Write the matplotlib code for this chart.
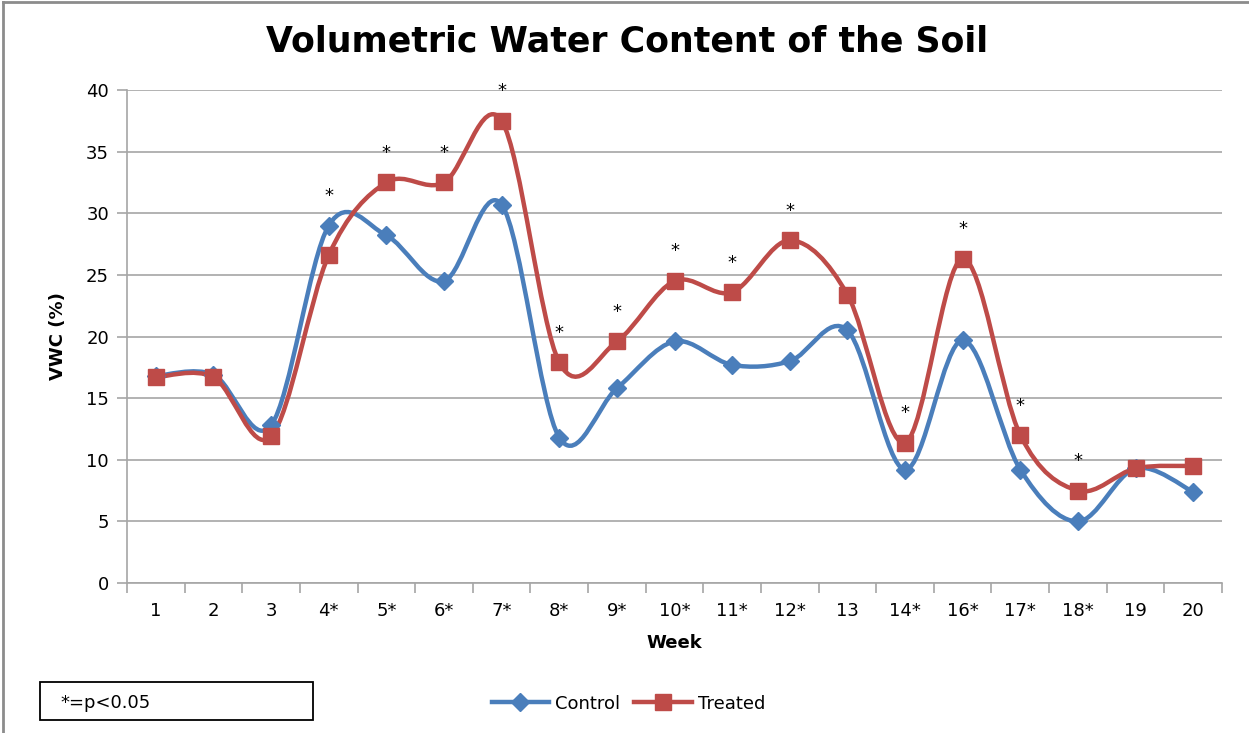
import matplotlib.pyplot as plt
import numpy as np
from matplotlib.lines import Line2D
from matplotlib.path import Path
from matplotlib.patches import PathPatch, Rectangle

weeks = ["1", "2", "3", "4*", "5*", "6*", "7*", "8*", "9*", "10*", "11*", "12*",
         "13", "14*", "16*", "17*", "18*", "19", "20"]
control = [16.8, 16.9, 12.8, 29.0, 28.2, 24.5, 30.7, 11.8, 15.8, 19.6, 17.7, 18.0,
           20.5, 9.2, 19.7, 9.2, 5.0, 9.3, 7.4]
treated = [16.7, 16.7, 11.9, 26.6, 32.5, 32.5, 37.5, 17.9, 19.6, 24.5, 23.6, 27.8,
           23.4, 11.4, 26.3, 12.0, 7.5, 9.3, 9.5]

BLUE = "#4a7ebb"
RED = "#be4b48"
GRID = "#a6a6a6"


def smooth_path(xs, ys):
    # Excel-like smoothed line: Catmull-Rom converted to cubic Bezier segments
    pts = np.column_stack([xs, ys]).astype(float)
    verts = [pts[0]]
    codes = [Path.MOVETO]
    n = len(pts)
    for i in range(n - 1):
        p0 = pts[max(i - 1, 0)]
        p1 = pts[i]
        p2 = pts[i + 1]
        p3 = pts[min(i + 2, n - 1)]
        verts += [p1 + (p2 - p0) / 6, p2 - (p3 - p1) / 6, p2]
        codes += [Path.CURVE4] * 3
    return Path(verts, codes)


fig = plt.figure(figsize=(12.49, 7.33), dpi=100)
ax = fig.add_axes([0.1017, 0.2046, 0.8767, 0.6726])

x = np.arange(len(weeks))
for vals, color, marker, ms in [(control, BLUE, "D", 9), (treated, RED, "s", 12)]:
    ax.add_patch(PathPatch(smooth_path(x, vals), facecolor="none", edgecolor=color,
                           lw=3.2, zorder=3, capstyle="round", joinstyle="round"))
    ax.plot(x, vals, linestyle="none", marker=marker, ms=ms, color=color,
            markeredgecolor=color, zorder=4)

# significance stars above the higher of both series
for i, w in enumerate(weeks):
    if w.endswith("*"):
        ax.text(i, max(control[i], treated[i]) + 2.4, "*", ha="center", va="center",
                fontsize=13, color="black", zorder=5)

ax.set_xlim(-0.5, len(weeks) - 0.5)
ax.set_ylim(0, 40)
ax.set_yticks(range(0, 41, 5))
ax.set_xticks(x)
ax.set_xticklabels(weeks)
ax.set_xticks(np.arange(-0.5, len(weeks), 1), minor=True)
ax.tick_params(axis="x", which="major", length=0, pad=14, labelsize=13)
ax.tick_params(axis="x", which="minor", length=7, color=GRID, width=1.2)
ax.tick_params(axis="y", length=7, color=GRID, width=1.2, labelsize=13, pad=6)
ax.yaxis.grid(True, color=GRID, lw=1.2)
ax.set_axisbelow(True)
for s in ["top", "right"]:
    ax.spines[s].set_visible(False)
for s in ["left", "bottom"]:
    ax.spines[s].set_color(GRID)
    ax.spines[s].set_linewidth(1.2)

ax.set_xlabel("Week", fontsize=13, fontweight="bold", labelpad=10)
ax.set_ylabel("VWC (%)", fontsize=13, fontweight="bold", labelpad=14)
fig.text(0.502, 0.943, "Volumetric Water Content of the Soil", ha="center", va="center",
         fontsize=25, fontweight="bold")

handles = [
    Line2D([], [], color=BLUE, lw=3.2, marker="D", ms=9),
    Line2D([], [], color=RED, lw=3.2, marker="s", ms=12),
]
fig.legend(handles, ["Control", "Treated"], loc="center", bbox_to_anchor=(0.503, 0.04),
           ncol=2, frameon=False, fontsize=13, handlelength=3.2, columnspacing=0.8,
           handletextpad=0.3)

fig.patches.append(Rectangle((40 / 1249, 1 - 720 / 733), 273 / 1249, 38 / 733,
                             transform=fig.transFigure, fill=False, edgecolor="black",
                             lw=1.3))
fig.text(60 / 1249, 1 - 703 / 733, "*=p<0.05", ha="left", va="center", fontsize=13)

# outer chart frame
fig.add_artist(Line2D([3 / 1249, 3 / 1249], [0, 1 - 2 / 733], color="#8c8c8c", lw=2,
                      transform=fig.transFigure))
fig.add_artist(Line2D([3 / 1249, 1], [1 - 2 / 733, 1 - 2 / 733], color="#8c8c8c", lw=2,
                      transform=fig.transFigure))

fig.savefig("out.png", dpi=100)
